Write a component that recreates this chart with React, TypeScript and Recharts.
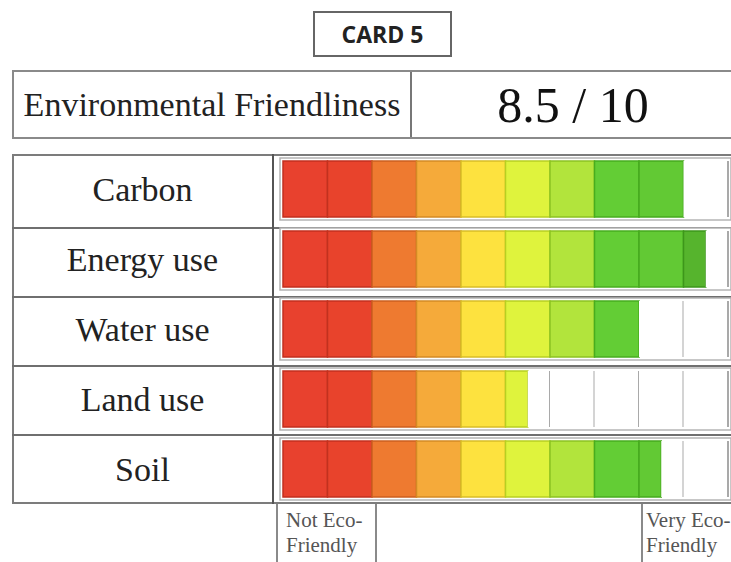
import { BarChart, Bar, XAxis, YAxis } from 'recharts';

const categories = ['Carbon', 'Energy use', 'Water use', 'Land use', 'Soil'];
const scores = [9, 9.5, 8, 5.5, 8.5];
const overallLabel = 'Environmental Friendliness';
const overallScore = '8.5 / 10';
const cardTitle = 'CARD 5';
const lowLabel = ['Not Eco-', 'Friendly'];
const highLabel = ['Very Eco-', 'Friendly'];

// one colour per scale step, red -> green
const cellColors = ['#e8412e', '#e8432c', '#ee7a30', '#f5aa3a', '#fde23f', '#dff33d', '#b2e43c', '#63cd35', '#62c934', '#56b42d'];
const cellEdges = ['#c22f1f', '#c2311f', '#cc5f1f', '#d48a24', '#d8bd27', '#b8cf22', '#8cc222', '#47ad1f', '#46a91e', '#3d961b'];

const SEGMENTS = 10;
const YAXIS_W = 271;
const serif = "'Liberation Serif', 'Times New Roman', serif";

const data = categories.map((name, r) => {
  const row: any = { name };
  for (let i = 0; i < SEGMENTS; i++) {
    const f = Math.max(0, Math.min(1, scores[r] - i));
    row['f' + i] = f;
    row['e' + i] = 1 - f;
  }
  return row;
});

const fillShape = (i: number) => (props: any) => {
  const { x, y, width, height } = props;
  if (!width || width <= 0.01) return <g />;
  return (
    <rect x={x} y={y} width={width} height={height}
      fill={cellColors[i]} stroke={cellEdges[i]} strokeWidth={1.5} />
  );
};

const emptyShape = (props: any) => {
  const { x, y, width, height } = props;
  if (!width || width <= 0.01) return <g />;
  return (
    <g>
      <rect x={x} y={y} width={width} height={height} fill="#fff" />
      <line x1={x + width} y1={y} x2={x + width} y2={y + height} stroke="#a9a9a9" strokeWidth={2} />
    </g>
  );
};

const frameShape = (props: any) => {
  const { x, y, width, height } = props;
  return (
    <rect x={x - 3} y={y - 3} width={width + 6} height={height + 6}
      fill="#fff" stroke="#b4b4b4" strokeWidth={1.5} />
  );
};

const RowLabel = ({ y, payload }: any) => (
  <text x={(YAXIS_W - 10) / 2} y={y} textAnchor="middle" dominantBaseline="central"
    fontFamily={serif} fontSize={34} fill="#222">
    {payload.value}
  </text>
);

const rowLines = [227, 296, 365, 434];

export default function App() {
  return (
    <div style={{ position: 'relative', width: 731, height: 562, overflow: 'hidden', background: '#fff', fontFamily: serif }}>
      <style>{'html,body{margin:0;padding:0;overflow:hidden}'}</style>
      <div style={{
        position: 'absolute', left: 313, top: 11, width: 139, height: 46, boxSizing: 'border-box',
        border: '2px solid #666', display: 'flex', alignItems: 'center', justifyContent: 'center',
        fontFamily: "'Open Sans', sans-serif", fontWeight: 700, fontSize: 23, color: '#222',
      }}>{cardTitle}</div>

      <div style={{ position: 'absolute', left: 12, top: 70, width: 724, height: 69, boxSizing: 'border-box', border: '2px solid #8a8a8a', display: 'flex' }}>
        <div style={{ width: 396, borderRight: '2px solid #777', display: 'flex', alignItems: 'center', justifyContent: 'center', fontSize: 34, color: '#222', whiteSpace: 'nowrap' }}>
          {overallLabel}
        </div>
        <div style={{ flex: 1, display: 'flex', alignItems: 'center', justifyContent: 'center', fontSize: 50, color: '#111' }}>
          {overallScore}
        </div>
      </div>

      <div style={{ position: 'absolute', left: 12, top: 154, width: 740, height: 350, boxSizing: 'border-box', border: '2px solid #7c7c7c' }} />
      {rowLines.map((t) => (
        <div key={t} style={{ position: 'absolute', left: 12, top: t, width: 740, height: 2, background: '#6f6f6f' }} />
      ))}
      <div style={{ position: 'absolute', left: 272, top: 154, width: 2, height: 350, background: '#555' }} />

      <div style={{ position: 'absolute', left: 12, top: 154 }}>
        <BarChart width={719} height={350} data={data} layout="vertical"
          margin={{ top: 0, right: 3, bottom: 0, left: 0 }} barCategoryGap={0}>
          <XAxis type="number" domain={[0, SEGMENTS]} hide />
          <YAxis type="category" dataKey="name" width={YAXIS_W} axisLine={false} tickLine={false} tick={<RowLabel />} />
          {Array.from({ length: SEGMENTS }).flatMap((_, i) => [
            <Bar key={'f' + i} dataKey={'f' + i} stackId="s" barSize={56} isAnimationActive={false}
              shape={fillShape(i)} background={i === 0 ? frameShape : undefined} />,
            <Bar key={'e' + i} dataKey={'e' + i} stackId="s" barSize={56} isAnimationActive={false}
              shape={emptyShape} />,
          ])}
        </BarChart>
      </div>

      <div style={{ position: 'absolute', left: 276, top: 504, width: 2, height: 60, background: '#8a8a8a' }} />
      <div style={{ position: 'absolute', left: 375, top: 504, width: 2, height: 60, background: '#8a8a8a' }} />
      <div style={{ position: 'absolute', left: 641, top: 504, width: 2, height: 60, background: '#8a8a8a' }} />
      <div style={{ position: 'absolute', left: 286, top: 508, fontSize: 21, lineHeight: '25px', color: '#555' }}>
        {lowLabel[0]}<br />{lowLabel[1]}
      </div>
      <div style={{ position: 'absolute', left: 646, top: 508, fontSize: 21, lineHeight: '25px', color: '#555', whiteSpace: 'nowrap' }}>
        {highLabel[0]}<br />{highLabel[1]}
      </div>
    </div>
  );
}
